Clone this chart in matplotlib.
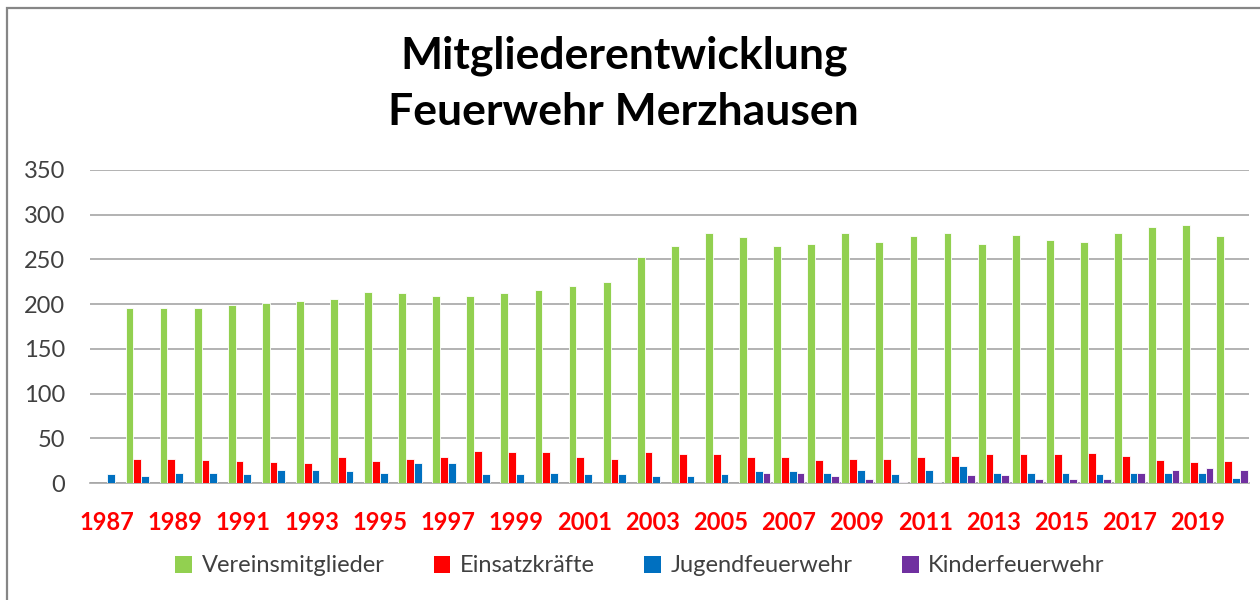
import numpy as np
import matplotlib
matplotlib.use("Agg")
import matplotlib.pyplot as plt
from matplotlib.patches import Rectangle, Patch

plt.rcParams['font.family'] = ['Lato', 'DejaVu Sans']

# Daten
jahre = list(range(1987, 2021))
vereinsmitglieder = [0, 196, 196, 196, 199, 201, 204, 206, 214, 213, 209, 209,
                     213, 216, 220, 225, 253, 265, 279, 275, 265, 267, 279, 269,
                     276, 280, 267, 277, 272, 269, 279, 286, 289, 276]
einsatzkraefte = [0, 27, 27, 26, 25, 23, 22, 29, 25, 27, 29, 36,
                  35, 35, 29, 27, 35, 32, 32, 29, 29, 26, 27, 27,
                  29, 30, 32, 32, 32, 33, 30, 26, 23, 25]
jugendfeuerwehr = [10, 8, 11, 11, 10, 14, 14, 13, 11, 22, 22, 10,
                   10, 11, 10, 10, 8, 8, 10, 13, 13, 11, 14, 10,
                   14, 19, 11, 11, 11, 10, 11, 11, 11, 6]
kinderfeuerwehr = [0, 0, 0, 0, 0, 0, 0, 0, 0, 0, 0, 0,
                   0, 0, 0, 0, 0, 0, 0, 11, 11, 8, 4, 1.5,
                   1.5, 9, 9, 4, 4, 4, 11, 14, 17, 14]

reihen = [("Vereinsmitglieder", vereinsmitglieder, "#92D050"),
          ("Einsatzkräfte", einsatzkraefte, "#FF0000"),
          ("Jugendfeuerwehr", jugendfeuerwehr, "#0070C0"),
          ("Kinderfeuerwehr", kinderfeuerwehr, "#7030A0")]

fig = plt.figure(figsize=(12.6, 6.0), dpi=100)
ax = fig.add_axes([90 / 1260, 1 - 483 / 600, 1159 / 1260, 313 / 600])

x = np.arange(len(jahre))
breite = 0.229
for i, (name, werte, farbe) in enumerate(reihen):
    ax.bar(x + (i - 1.5) * breite, werte, width=breite, color=farbe,
           edgecolor="white", linewidth=0.6, zorder=3, label=name)

ax.set_xlim(-0.5, len(jahre) - 0.5)
ax.set_ylim(0, 350)
ax.set_yticks(range(0, 351, 50))
ax.yaxis.grid(True, color="#a6a6a6", linewidth=1.2, zorder=0)
ax.tick_params(axis="y", length=0, pad=18, labelsize=17, labelcolor="#404040")

ax.set_xticks(x[::2])
ax.set_xticklabels([str(j) for j in jahre[::2]], color="#FF0000",
                   fontweight="bold", fontsize=17)
ax.tick_params(axis="x", length=0, pad=20)

for s in ["top", "right", "left"]:
    ax.spines[s].set_visible(False)
ax.spines["bottom"].set_color("#a6a6a6")
ax.spines["bottom"].set_linewidth(1.2)

fig.text(0.495, 1 - 56 / 600, "Mitgliederentwicklung", ha="center", va="center",
         fontsize=32, fontweight="bold", color="black")
fig.text(0.495, 1 - 112 / 600, "Feuerwehr Merzhausen", ha="center", va="center",
         fontsize=32, fontweight="bold", color="black")

handles = [Patch(facecolor=f, edgecolor="none") for _, _, f in reihen]
fig.legend(handles, [n for n, _, _ in reihen], loc="center",
           bbox_to_anchor=(640 / 1260, 1 - 566 / 600), ncol=4, frameon=False,
           fontsize=17, handlelength=0.7, handleheight=0.7, handletextpad=0.4,
           columnspacing=2.1, labelcolor="#404040")

fig.patches.append(Rectangle((7 / 1260, -0.1), 1.2, 1 - 8 / 600 + 0.1,
                             transform=fig.transFigure, fill=False,
                             edgecolor="#868686", linewidth=1.6))

fig.savefig("out.png", dpi=100, facecolor="white")
